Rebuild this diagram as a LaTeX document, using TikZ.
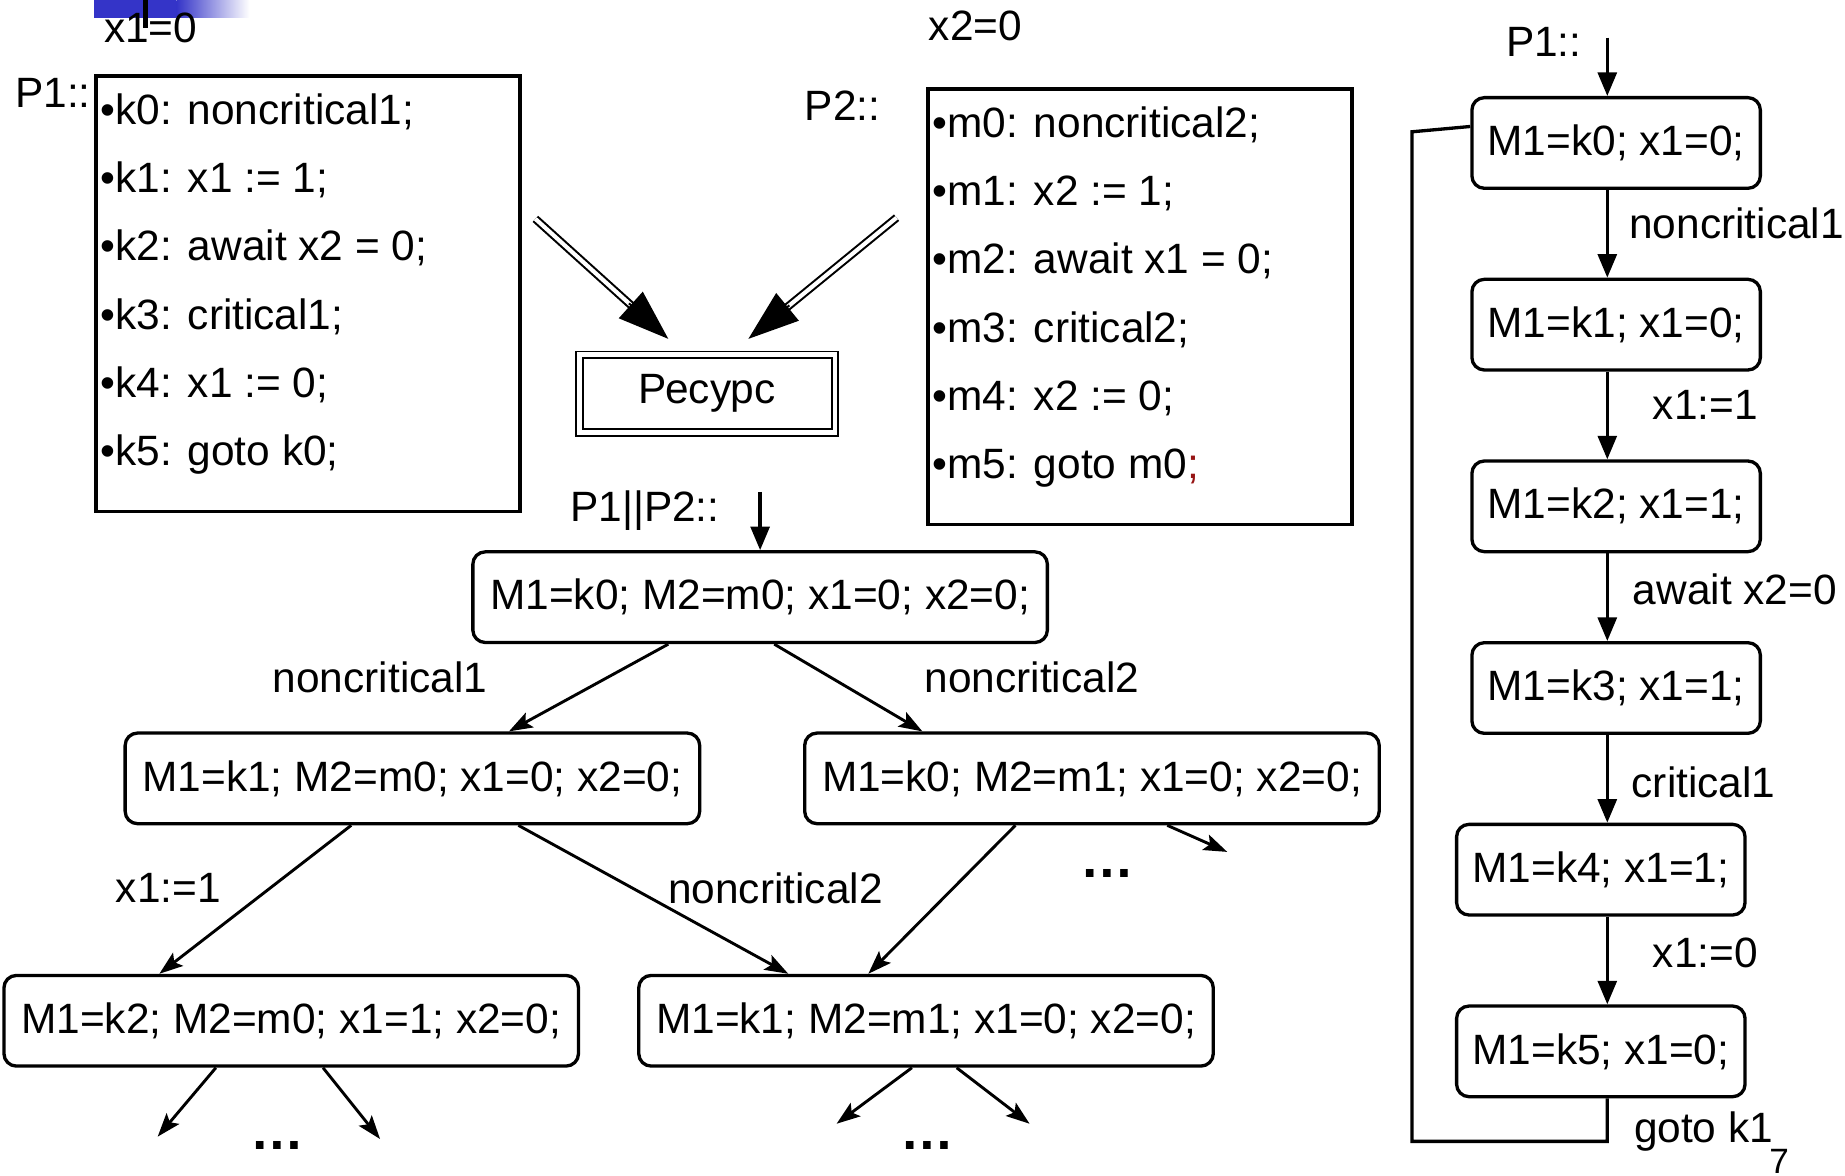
\documentclass[tikz,border=0pt]{standalone}
\usepackage{fontspec}
\setmainfont{Liberation Sans}
\usetikzlibrary{arrows.meta,positioning,calc}

\definecolor{slideblue}{RGB}{52,52,200}
\definecolor{semired}{RGB}{150,20,20}

% program listing inside a fixed frame
\newcommand{\proglines}[1]{\parbox[c][3.70cm][t]{3.60cm}{\vspace*{0.15cm}\setlength{\baselineskip}{0.58cm}\leftskip=0.04cm #1}}

\begin{document}
\begin{tikzpicture}[x=0.01cm, y=-0.01cm,
        node distance=0.745cm,
        every node/.style={font=\fontsize{10.25}{12}\selectfont},
        prog/.style={draw, line width=0.9pt, inner sep=0pt},
        state/.style={draw, rounded corners=3pt, line width=0.8pt, minimum width=4.88cm, minimum height=0.77cm, inner sep=0pt},
        local/.style={state, minimum width=2.45cm},
        res/.style={draw, double, double distance=0.04cm, line width=0.45pt, minimum width=2.17cm, minimum height=0.66cm},
        lbl/.style={inner sep=0pt},
        dots/.style={inner sep=0pt, anchor=base, font=\fontsize{13}{14}\selectfont\bfseries},
        arrow/.style={-{Stealth[length=0.2cm, width=0.14cm, inset=0.04cm]}, line width=0.7pt},
        flow/.style={-{Triangle[length=0.2cm, width=0.16cm]}, line width=0.8pt},
        dbl/.style={double, double distance=0.035cm, line width=0.5pt},
        head/.style={-{Triangle[length=0.43cm, width=0.30cm]}, line width=0.5pt}
    ]
    \useasboundingbox (0,0) rectangle (1568,999);

    % slide corner
    \fill[slideblue] (80,0) rectangle (150,15);
    \shade[left color=slideblue, right color=white] (150,0) rectangle (212,15);
    \fill (121.5,0) rectangle (126,24);

    % the two programs
    \node[lbl] (x1init) at (128,24) {x1=0};
    \node[lbl] (x2init) at (829,22) {x2=0};
    \node[lbl] (p1name) at (45,79) {P1::};
    \node[lbl] (p2name) at (716,90) {P2::};

    \node[prog, anchor=north west] (prog1) at (80,63) {\proglines{%
        •k0: noncritical1;\\
        •k1: x1 := 1;\\
        •k2: await x2 = 0;\\
        •k3: critical1;\\
        •k4: x1 := 0;\\
        •k5: goto k0;}};
    \node[prog, anchor=north west] (prog2) at (787,74) {\proglines{%
        •m0: noncritical2;\\
        •m1: x2 := 1;\\
        •m2: await x1 = 0;\\
        •m3: critical2;\\
        •m4: x2 := 0;\\
        •m5: goto m0\textcolor{semired}{;}}};

    \node[res] (res) at (601,334.5) {Ресурс};

    \coordinate (in1) at (455,186);
    \coordinate (to1) at (568,288);
    \coordinate (in2) at (762,185);
    \coordinate (to2) at (636,288);
    \draw[dbl] (in1) -- ($(to1)!0.41cm!(in1)$);
    \draw[head] ($(to1)!0.45cm!(in1)$) -- (to1);
    \draw[dbl] (in2) -- ($(to2)!0.41cm!(in2)$);
    \draw[head] ($(to2)!0.45cm!(in2)$) -- (to2);

    % joint state tree
    \node[lbl] (prodname) at (548,434) {P1||P2::};
    \coordinate (prodin) at (646,418);
    \node[state] (root) at (646,507.5) {M1=k0; M2=m0; x1=0; x2=0;};
    \node[state] (n1) at (350.5,661.5) {M1=k1; M2=m0; x1=0; x2=0;};
    \node[state] (n2) at (928,661.5) {M1=k0; M2=m1; x1=0; x2=0;};
    \node[state] (n3) at (247.5,867.5) {M1=k2; M2=m0; x1=1; x2=0;};
    \node[state] (n4) at (787,867.5) {M1=k1; M2=m1; x1=0; x2=0;};

    \node[lbl] (e1) at (323,576) {noncritical1};
    \node[lbl] (e2) at (877,576) {noncritical2};
    \node[lbl] (e3) at (143,755) {x1:=1};
    \node[lbl] (e4) at (659,755) {noncritical2};

    \coordinate (out1) at (1043,724);
    \coordinate (out2) at (134,966);
    \coordinate (out3) at (323,968);
    \coordinate (out4) at (711,955);
    \coordinate (out5) at (875,955);
    \node[dots] (more1) at (941,746) {…};
    \node[dots] (more2) at (236,977) {…};
    \node[dots] (more3) at (788,977) {…};

    \draw[flow] (prodin) -- (root);
    \draw[arrow] ([xshift=-0.78cm]root.south) -- ([xshift=0.82cm]n1.north);
    \draw[arrow] ([xshift=0.12cm]root.south) -- ([xshift=-1.44cm]n2.north);
    \draw[arrow] ([xshift=-0.52cm]n1.south) -- ([xshift=-1.12cm]n3.north);
    \draw[arrow] ([xshift=0.90cm]n1.south) -- ([xshift=-1.17cm]n4.north);
    \draw[arrow] ([xshift=-0.65cm]n2.south) -- ([xshift=-0.49cm]n4.north);
    \draw[arrow] ([xshift=0.64cm]n2.south) -- (out1);
    \draw[arrow] ([xshift=-0.64cm]n3.south) -- (out2);
    \draw[arrow] ([xshift=0.27cm]n3.south) -- (out3);
    \draw[arrow] ([xshift=-0.12cm]n4.south) -- (out4);
    \draw[arrow] ([xshift=0.26cm]n4.south) -- (out5);

    % process P1 alone
    \node[lbl] (p1loc) at (1312,36) {P1::};
    \coordinate (spine) at (1366,0);
    \coordinate (locin) at (1366,32);
    \node[local] (r0) at (1373.5,121.5) {M1=k0; x1=0;};
    \node[local, below=of r0] (r1) {M1=k1; x1=0;};
    \node[local, below=of r1] (r2) {M1=k2; x1=1;};
    \node[local, below=of r2] (r3) {M1=k3; x1=1;};
    \node[local, below=of r3, xshift=-0.13cm] (r4) {M1=k4; x1=1;};
    \node[local, below=of r4] (r5) {M1=k5; x1=0;};

    \node[lbl, anchor=west] (t1) at (1384,190) {noncritical1};
    \node[lbl, anchor=west] (t2) at (1404,344) {x1:=1};
    \node[lbl, anchor=west] (t3) at (1387,501) {await x2=0};
    \node[lbl, anchor=west] (t4) at (1386,665) {critical1};
    \node[lbl, anchor=west] (t5) at (1404,810) {x1:=0};
    \node[lbl, anchor=west] (t6) at (1388,962) {goto k1};

    \draw[flow] (locin) -- (r0.north -| spine);
    \foreach \a/\b in {r0/r1, r1/r2, r2/r3, r3/r4, r4/r5}
        \draw[flow] (\a.south -| spine) -- (\b.north -| spine);

    \coordinate (back1) at (1200,970);
    \coordinate (back2) at (1200,112);
    \draw[line width=0.8pt] (r5.south -| spine) |- (back1) -- (back2) -- ([yshift=0.14cm]r0.west);

    \node[lbl, font=\fontsize{8.5}{10}\selectfont] (pagenum) at (1512,987) {7};
\end{tikzpicture}
\end{document}
